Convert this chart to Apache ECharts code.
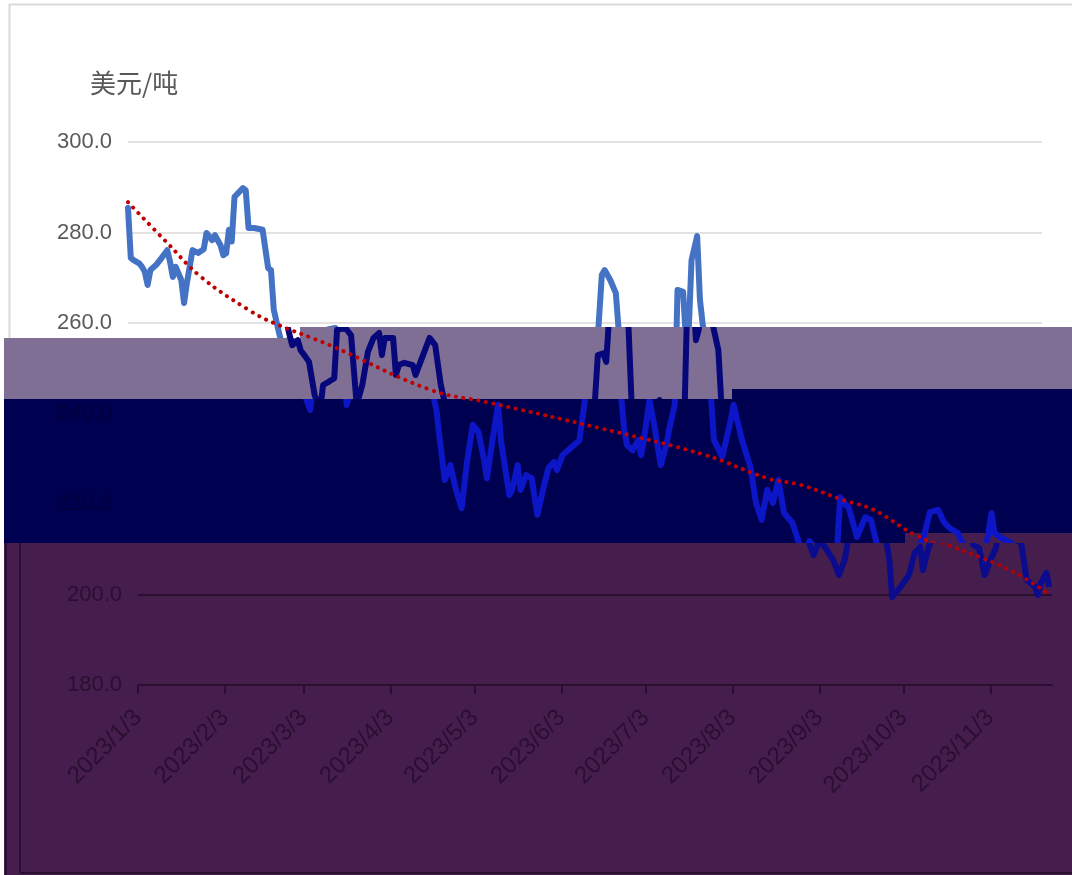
<!DOCTYPE html>
<html><head><meta charset="utf-8">
<script src="https://cdn.jsdelivr.net/npm/echarts@6/dist/echarts.min.js"></script>
<style>html,body{margin:0;padding:0;background:#fff}#c{width:1072px;height:875px}</style>
</head><body><div id="c"></div><script>
const yUnit = '美元/吨';
const tickLabels = ['2023/1/3','2023/2/3','2023/3/3','2023/4/3','2023/5/3','2023/6/3','2023/7/3','2023/8/3','2023/9/3','2023/10/3','2023/11/3'];
const dates = ['2023/1/3','2023/1/4','2023/1/5','2023/1/7','2023/1/8','2023/1/9','2023/1/10','2023/1/11','2023/1/13','2023/1/15','2023/1/17','2023/1/18','2023/1/19','2023/1/20','2023/1/22','2023/1/23','2023/1/24','2023/1/26','2023/1/28','2023/1/30','2023/1/31','2023/2/2','2023/2/3','2023/2/5','2023/2/6','2023/2/7','2023/2/8','2023/2/9','2023/2/10','2023/2/13','2023/2/14','2023/2/15','2023/2/17','2023/2/20','2023/2/22','2023/2/23','2023/2/24','2023/2/26','2023/2/27','2023/3/1','2023/3/2','2023/3/4','2023/3/5','2023/3/7','2023/3/9','2023/3/10','2023/3/12','2023/3/14','2023/3/15','2023/3/18','2023/3/20','2023/3/21','2023/3/22','2023/3/24','2023/3/26','2023/3/28','2023/3/30','2023/3/31','2023/4/1','2023/4/4','2023/4/5','2023/4/6','2023/4/8','2023/4/11','2023/4/12','2023/4/14','2023/4/17','2023/4/19','2023/4/21','2023/4/23','2023/4/24','2023/4/26','2023/4/28','2023/4/30','2023/5/2','2023/5/4','2023/5/6','2023/5/8','2023/5/10','2023/5/11','2023/5/13','2023/5/15','2023/5/16','2023/5/19','2023/5/20','2023/5/22','2023/5/23','2023/5/25','2023/5/27','2023/5/29','2023/5/31','2023/6/2','2023/6/4','2023/6/5','2023/6/7','2023/6/9','2023/6/11','2023/6/13','2023/6/15','2023/6/16','2023/6/18','2023/6/19','2023/6/21','2023/6/22','2023/6/24','2023/6/26','2023/6/27','2023/6/28','2023/6/29','2023/6/30','2023/7/2','2023/7/4','2023/7/5','2023/7/6','2023/7/8','2023/7/10','2023/7/12','2023/7/14','2023/7/15','2023/7/17','2023/7/18','2023/7/20','2023/7/21','2023/7/22','2023/7/23','2023/7/25','2023/7/26','2023/7/27','2023/7/29','2023/7/30','2023/7/31','2023/8/3','2023/8/6','2023/8/7','2023/8/10','2023/8/13','2023/8/15','2023/8/17','2023/8/19','2023/8/21','2023/8/23','2023/8/25','2023/8/28','2023/8/30','2023/9/1','2023/9/3','2023/9/5','2023/9/8','2023/9/10','2023/9/12','2023/9/13','2023/9/14','2023/9/16','2023/9/17','2023/9/20','2023/9/23','2023/9/25','2023/9/27','2023/9/28','2023/9/29','2023/10/2','2023/10/5','2023/10/7','2023/10/9','2023/10/10','2023/10/12','2023/10/14','2023/10/16','2023/10/19','2023/10/21','2023/10/23','2023/10/26','2023/10/28','2023/10/30','2023/11/1','2023/11/3','2023/11/5','2023/11/7','2023/11/8','2023/11/10','2023/11/12','2023/11/14','2023/11/16','2023/11/19','2023/11/20','2023/11/21','2023/11/23','2023/11/24'];
const prices = [285.4,274.4,273.9,273.2,272.4,271.3,268.4,271.7,272.8,274.4,276.1,273.5,270.2,272.4,269.5,264.4,268.8,276.1,275.5,276.3,279.9,278.3,279.4,277.2,275.0,275.4,280.6,278.0,287.9,289.8,289.3,281.0,281.0,280.6,272.1,271.7,262.9,257.5,255.1,256.2,254.0,252.3,251.4,244.1,240.8,246.3,247.0,247.8,258.5,258.9,257.3,249.6,241.9,246.3,253.6,256.7,257.8,252.9,256.7,256.7,248.5,250.7,251.2,250.7,248.5,251.8,256.7,255.1,246.3,240.8,235.3,225.3,228.6,223.1,219.1,229.7,237.5,235.9,229.7,225.7,234.1,241.9,234.1,222.0,223.1,228.6,223.1,226.4,225.7,217.6,223.1,228.0,229.3,227.5,230.8,231.9,233.0,234.1,243.0,252.9,253.3,251.4,270.6,271.7,269.5,266.6,258.5,243.0,236.4,233.0,231.9,234.1,230.8,234.1,243.0,236.4,228.6,233.0,236.4,241.9,267.3,266.9,256.2,258.5,273.9,279.2,265.1,259.6,254.0,243.0,234.1,230.4,238.6,241.9,234.1,228.2,220.2,216.5,223.1,220.2,225.3,218.0,215.8,212.0,208.7,211.8,210.5,207.6,204.3,207.6,210.9,221.5,219.8,219.3,212.7,217.1,216.5,211.4,207.6,199.4,201.7,204.3,209.2,210.5,205.4,210.5,213.1,218.2,218.7,216.0,214.7,213.6,210.9,210.3,204.3,207.6,210.3,218.0,213.6,212.7,212.0,211.4,203.2,201.7,199.9,202.5,204.8,201.7];
const trendDates = ['2023/1/3','2023/1/17','2023/1/29','2023/2/15','2023/2/24','2023/3/16','2023/4/21','2023/5/11','2023/6/20','2023/7/28','2023/8/19','2023/8/31','2023/9/15','2023/9/26','2023/10/11','2023/11/10','2023/11/24'];
const trendValues = [286.7,277.7,270.2,262.9,260.0,255.1,245.2,242.5,236.8,230.8,225.7,224.2,220.9,218.7,213.1,205.4,200.0];

// daily category axis (date axis)
const cats = [];
for (let d = new Date(2023, 0, 3); d <= new Date(2023, 10, 25); d.setDate(d.getDate() + 1)) {
  cats.push(d.getFullYear() + '/' + (d.getMonth() + 1) + '/' + d.getDate());
}
const priceData = dates.map((d, i) => [d, prices[i]]);
const trendData = trendDates.map((d, i) => [d, trendValues[i]]);
const isTick = (i, v) => tickLabels.indexOf(v) >= 0;

const T = 'rgba(0,0,0,0)';
const GRAY = '#595959';
const DARK = '#2a0f31';
const B1 = 259.12, B2 = 243.2, B3 = 211.38;
const LO = 100, HI = 400;

const chart = echarts.init(document.getElementById('c'), null, {renderer: 'canvas'});
const fontFamily = '"Liberation Sans", Arial, "Noto Sans CJK SC", sans-serif';

function vm(seriesIndex, pieces) {
  return {type: 'piecewise', show: false, dimension: 1, seriesIndex: seriesIndex, pieces: pieces, outOfRange: {color: T}};
}
const lineBase = {type: 'line', symbol: 'none', showSymbol: false, animation: false, silent: true};
const yBase = {type: 'value', min: 180, max: 300, interval: 20, position: 'left',
  axisLine: {show: false}, axisTick: {show: false}};
const labelBase = {margin: 16, fontSize: 22, fontFamily: fontFamily, formatter: v => v.toFixed(1)};
const LW = 6;

chart.setOption({
  animation: false,
  backgroundColor: '#ffffff',
  textStyle: {fontFamily: fontFamily},
  grid: [
    {left: 128, right: 30, top: 142, bottom: 190, containLabel: false, outerBoundsMode: 'none'},
    {left: 138, right: 20, top: 142, bottom: 190, containLabel: false, outerBoundsMode: 'none'}
  ],
  xAxis: [
    {gridIndex: 0, type: 'category', data: cats, boundaryGap: false, show: false},
    {gridIndex: 1, type: 'category', data: cats, boundaryGap: false, zlevel: 2,
     axisLine: {lineStyle: {color: DARK, width: 2}},
     axisTick: {show: true, interval: isTick, length: 9, lineStyle: {color: DARK, width: 2}},
     axisLabel: {interval: isTick, rotate: 45, margin: 29, fontSize: 24, color: DARK, fontFamily: fontFamily},
     splitLine: {show: false}}
  ],
  yAxis: [
    Object.assign({}, yBase, {gridIndex: 0, zlevel: 0,
     axisLabel: Object.assign({}, labelBase, {color: v => (Number(v) >= 260 ? GRAY : T)}),
     splitLine: {lineStyle: {color: '#d9d9d9', width: 1.5}}}),
    Object.assign({}, yBase, {gridIndex: 0, zlevel: 2, splitLine: {show: false},
     axisLabel: Object.assign({}, labelBase, {color: v => ((Number(v) === 240 || Number(v) === 220) ? '#00003c' : T)})}),
    Object.assign({}, yBase, {gridIndex: 1, zlevel: 2,
     axisLabel: Object.assign({}, labelBase, {color: v => (Number(v) <= 200 ? DARK : T)}),
     splitLine: {lineStyle: {color: [T, DARK, T, T, T, T, T], width: 2}}})
  ],
  visualMap: [
    vm(1, [{gte: B2, lt: B1, color: '#07077c'}]),
    vm(2, [{gte: B3, lt: B2, color: '#0c16c6'}]),
    vm(3, [{gte: LO, lt: B3, color: '#0b0b8e'}]),
    vm(4, [{gte: B3, lt: HI, color: '#c00000'}]),
    vm(5, [{gte: LO, lt: B3, color: '#b00008'}])
  ],
  graphic: [
    {type: 'rect', zlevel: 0, z: 0, shape: {x: 9.5, y: 4.5, width: 1100, height: 900}, style: {fill: T, stroke: '#d9d9d9', lineWidth: 2}},
    {type: 'text', zlevel: 0, z: 10, left: 90, top: 70, style: {text: yUnit, fill: GRAY, font: '26px "Noto Sans CJK SC", sans-serif'}},
    {type: 'rect', zlevel: 1, z: 0, shape: {x: 4, y: 338, width: 296, height: 61}, style: {fill: '#7f6f95'}},
    {type: 'rect', zlevel: 1, z: 0, shape: {x: 300, y: 327, width: 772, height: 72}, style: {fill: '#7f6f95'}},
    {type: 'rect', zlevel: 1, z: 1, shape: {x: 4, y: 399, width: 728, height: 144}, style: {fill: '#000050'}},
    {type: 'rect', zlevel: 1, z: 1, shape: {x: 732, y: 389, width: 340, height: 154}, style: {fill: '#000050'}},
    {type: 'rect', zlevel: 1, z: 2, shape: {x: 4, y: 543, width: 1068, height: 332}, style: {fill: '#461e4e'}},
    {type: 'rect', zlevel: 1, z: 2, shape: {x: 905, y: 533, width: 167, height: 10}, style: {fill: '#461e4e'}},
    {type: 'line', zlevel: 1, z: 3, shape: {x1: 6, y1: 543, x2: 6, y2: 875}, style: {stroke: DARK, lineWidth: 2}},
    {type: 'line', zlevel: 1, z: 3, shape: {x1: 20, y1: 543, x2: 20, y2: 873}, style: {stroke: DARK, lineWidth: 2}},
    {type: 'line', zlevel: 1, z: 3, shape: {x1: 20, y1: 873, x2: 1072, y2: 873}, style: {stroke: DARK, lineWidth: 2}}
  ],
  series: [
    Object.assign({}, lineBase, {name: 'base', xAxisIndex: 0, yAxisIndex: 0, zlevel: 0, data: priceData,
      lineStyle: {color: '#4472c4', width: LW, join: 'round', cap: 'round'}}),
    Object.assign({}, lineBase, {name: 'band1', xAxisIndex: 1, yAxisIndex: 2, zlevel: 2, data: priceData,
      lineStyle: {width: LW, join: 'round'}}),
    Object.assign({}, lineBase, {name: 'band2', xAxisIndex: 0, yAxisIndex: 0, zlevel: 2, data: priceData,
      lineStyle: {width: LW, join: 'round'}}),
    Object.assign({}, lineBase, {name: 'band3', xAxisIndex: 1, yAxisIndex: 2, zlevel: 2, data: priceData,
      lineStyle: {width: LW, join: 'round'}}),
    Object.assign({}, lineBase, {name: 'trendA', xAxisIndex: 0, yAxisIndex: 0, zlevel: 2, z: 5, data: trendData, smooth: 0.4,
      lineStyle: {width: 4, type: [0.1, 7.5], cap: 'round'}}),
    Object.assign({}, lineBase, {name: 'trendB', xAxisIndex: 1, yAxisIndex: 2, zlevel: 2, z: 5, data: trendData, smooth: 0.4,
      lineStyle: {width: 4, type: [0.1, 7.5], cap: 'round'}})
  ]
});
</script></body></html>
